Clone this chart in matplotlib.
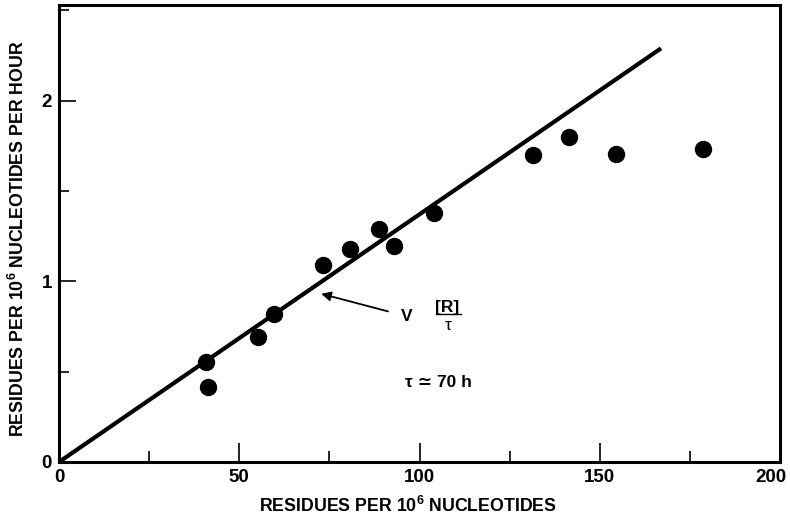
import matplotlib
matplotlib.use("Agg")
import matplotlib.pyplot as plt
from matplotlib.ticker import MultipleLocator
from matplotlib.transforms import ScaledTranslation

# Data
residues = [40.7, 41.3, 55.1, 59.6, 73.1, 80.6, 88.9, 92.8, 103.9, 131.6, 141.6, 154.6, 178.7]
rate = [0.556, 0.417, 0.694, 0.817, 1.089, 1.178, 1.289, 1.194, 1.378, 1.70, 1.80, 1.706, 1.733]
line_x = [0, 167]
line_y = [0, 2.29]
x_ticks = [0, 50, 100, 150, 200]
y_ticks = [0, 1, 2]

plt.rcParams['font.family'] = ['Liberation Sans', 'DejaVu Sans']
plt.rcParams['mathtext.fontset'] = 'custom'
plt.rcParams['mathtext.rm'] = 'Liberation Sans:bold'
plt.rcParams['mathtext.it'] = 'Liberation Sans:italic'
plt.rcParams['mathtext.bf'] = 'Liberation Sans:bold'

fig = plt.figure(figsize=(7.9, 5.17), dpi=100)
ax = fig.add_axes([59/790, 55/517, 721/790, 457/517])

ax.plot(line_x, line_y, color='black', lw=3, solid_capstyle='butt', zorder=2)
ax.plot(residues, rate, 'o', color='black', markersize=11.5, zorder=3)

ax.set_xlim(0, 200)
ax.set_ylim(0, 2.53)
ax.set_xticks(x_ticks)
ax.set_yticks(y_ticks)
ax.xaxis.set_minor_locator(MultipleLocator(25))
ax.yaxis.set_minor_locator(MultipleLocator(0.5))
ax.tick_params(axis='x', which='major', direction='in', length=14, width=1.2,
               labelsize=13.5, pad=5)
ax.tick_params(axis='x', which='minor', direction='in', length=8, width=1.2)
ax.tick_params(axis='y', which='major', direction='in', length=12, width=1.2,
               labelsize=13.5, pad=5)
ax.tick_params(axis='y', which='minor', direction='in', length=7, width=1.2)
for lbl in ax.get_xticklabels() + ax.get_yticklabels():
    lbl.set_fontweight('bold')
last = ax.get_xticklabels()[-1]
last.set_transform(last.get_transform() + ScaledTranslation(-0.09, 0, fig.dpi_scale_trans))
for s in ax.spines.values():
    s.set_linewidth(2.2)

ax.set_xlabel(r"RESIDUES PER 10$^{6}$ NUCLEOTIDES", fontsize=12.8,
              fontweight='bold', va='center')
ax.set_ylabel(r"RESIDUES PER 10$^{6}$ NUCLEOTIDES PER HOUR", fontsize=12.8,
              fontweight='bold', va='center')
ax.xaxis.set_label_coords(0.484, -0.097)
ax.yaxis.set_label_coords(-0.057, 0.488)

ax.annotate("", xy=(72, 0.935), xytext=(92, 0.83),
            arrowprops=dict(arrowstyle='-|>', color='black', lw=1.3,
                            mutation_scale=14))
ax.text(96.5, 0.805, "V", fontsize=12.5, fontweight='bold', ha='center', va='center')
ax.text(107.8, 0.855, "[R]", fontsize=12.5, fontweight='bold', ha='center', va='center')
ax.plot([104.5, 111.5], [0.82, 0.82], color='black', lw=1)
ax.text(108, 0.755, "τ", fontsize=12.5, ha='center', va='center')
ax.text(105.3, 0.44, "τ ≃ 70 h", fontsize=12.5, fontweight='bold', ha='center', va='center')

fig.savefig("out.png", dpi=100)
